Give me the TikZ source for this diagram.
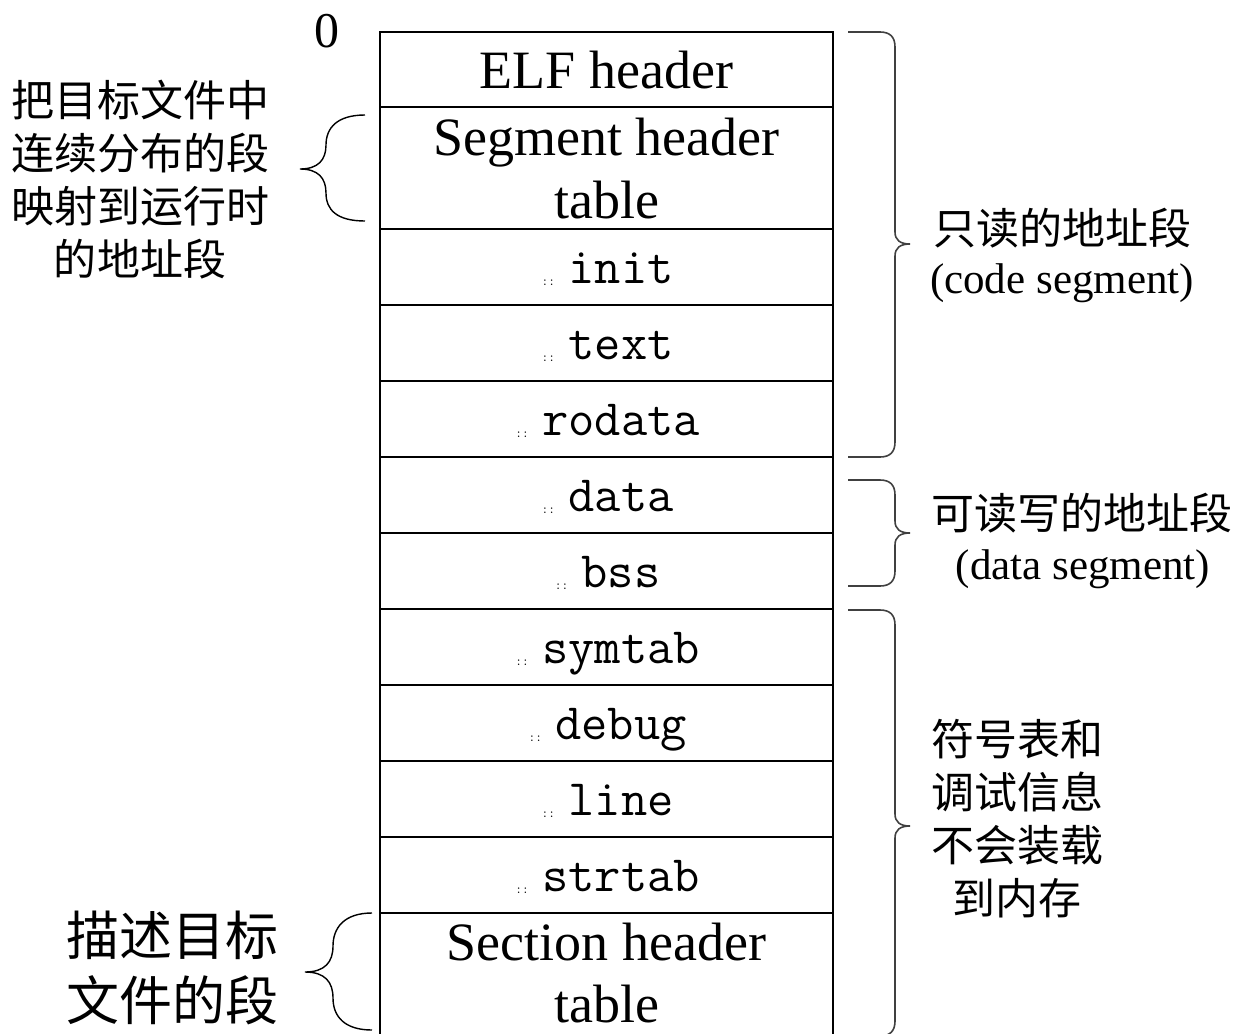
\documentclass[tikz,border=0pt]{standalone}
\usepackage{fontspec}
\setmainfont{Liberation Serif}
\newfontfamily\cjk{Noto Sans CJK SC}
\begin{document}
\begin{tikzpicture}[x=1pt,y=-1pt,
  cell/.style={draw, line width=1.4pt, minimum width=453pt, minimum height=76pt, inner sep=0pt, outer sep=0pt},
  tallcell/.style={cell, minimum height=122pt},
  hdr/.style={font=\fontsize{54}{62}\selectfont, anchor=base, inner sep=0pt},
  sec/.style={font=\ttfamily\fontsize{51}{51}\selectfont, anchor=base, inner sep=0pt},
  glyphdots/.style={font=\ttfamily\fontsize{13}{13}\selectfont, anchor=base east, inner sep=0pt},
  note/.style={font=\cjk\fontsize{43}{53}\selectfont, align=center, inner sep=0pt},
  latinnote/.style={font=\fontsize{43}{53}\selectfont, anchor=base, inner sep=0pt},
  brace/.style={line width=1.4pt},
  rbrace/.style={line width=1.6pt, draw=black!75}]
\useasboundingbox (0,0) rectangle (1233,1033);

% the stack of sections
\node[cell, minimum height=75pt] (elf) at (606.5,69.5) {};
\node[tallcell] (seghdr) at (606.5,168) {};
\node[cell] (init)   at (606.5,267) {};
\node[cell] (text)   at (606.5,343) {};
\node[cell] (rodata) at (606.5,419) {};
\node[cell] (data)   at (606.5,495) {};
\node[cell] (bss)    at (606.5,571) {};
\node[cell] (symtab) at (606.5,647) {};
\node[cell] (debug)  at (606.5,723) {};
\node[cell] (line)   at (606.5,799) {};
\node[cell] (strtab) at (606.5,875) {};
\node[tallcell] (sechdr) at (606.5,974) {};

\node[font=\fontsize{50}{55}\selectfont, anchor=base, inner sep=0pt] (zero) at (327,48) {0};

% headers
\node[hdr] (elft)  at (606.5,88)  {ELF header};
\node[hdr] (segt1) at (606.5,155) {Segment header};
\node[hdr] (segt2) at (606.5,218) {table};
\node[hdr] (sect1) at (606.5,960) {Section header};
\node[hdr] (sect2) at (606.5,1022) {table};

% section names
\foreach \n/\y in {init/283, text/359, rodata/435, data/511, bss/587,
                   symtab/663, debug/739, line/815, strtab/891}{
  \node[sec] (\n t) at (621,\y) {\n};
  \node[glyphdots] (\n d) at ([xshift=-13pt,yshift=-2pt]\n t.base west) {::};
}

% notes on the left
\node[note] (maptext) at (140,180) {把目标文件中\\连续分布的段\\映射到运行时\\的地址段};
\node[note, font=\cjk\fontsize{53}{65}\selectfont] (desctext) at (172,968) {描述目标\\文件的段};

% braces on the left
\draw[brace] (365,115) .. controls (337,115) and (326,128) .. (326,145)
  .. controls (326,160) and (318,169) .. (300,169)
  .. controls (318,169) and (326,178) .. (326,193)
  .. controls (326,210) and (337,221) .. (365,221);
\draw[brace] (372,913) .. controls (344,913) and (333,928) .. (333,946)
  .. controls (333,962) and (325,972) .. (305,972)
  .. controls (325,972) and (333,982) .. (333,998)
  .. controls (333,1016) and (344,1030) .. (372,1030);

% braces on the right
\draw[rbrace] (848,32) -- (880,32) .. controls (890,32) and (895,37) .. (895,47)
  -- (895,232) .. controls (895,240) and (900,244) .. (910,244)
  .. controls (900,244) and (895,248) .. (895,256)
  -- (895,442) .. controls (895,452) and (890,457) .. (880,457) -- (848,457);
\draw[rbrace] (848,480) -- (880,480) .. controls (890,480) and (895,485) .. (895,495)
  -- (895,521) .. controls (895,529) and (900,533) .. (910,533)
  .. controls (900,533) and (895,537) .. (895,545)
  -- (895,571) .. controls (895,581) and (890,586) .. (880,586) -- (848,586);
\draw[rbrace] (848,610) -- (880,610) .. controls (890,610) and (895,615) .. (895,625)
  -- (895,814) .. controls (895,822) and (900,826) .. (910,826)
  .. controls (900,826) and (895,830) .. (895,838)
  -- (895,1021) .. controls (895,1031) and (890,1036) .. (880,1036) -- (848,1036);

% notes on the right
\node[note] (rotext) at (1062,228) {只读的地址段};
\node[latinnote] (rolatin) at (1062,293) {(code segment)};
\node[note] (rwtext) at (1082,513) {可读写的地址段};
\node[latinnote] (rwlatin) at (1083,579) {(data segment)};
\node[note] (symtext) at (1017,819) {符号表和\\调试信息\\不会装载\\到内存};
\end{tikzpicture}
\end{document}
